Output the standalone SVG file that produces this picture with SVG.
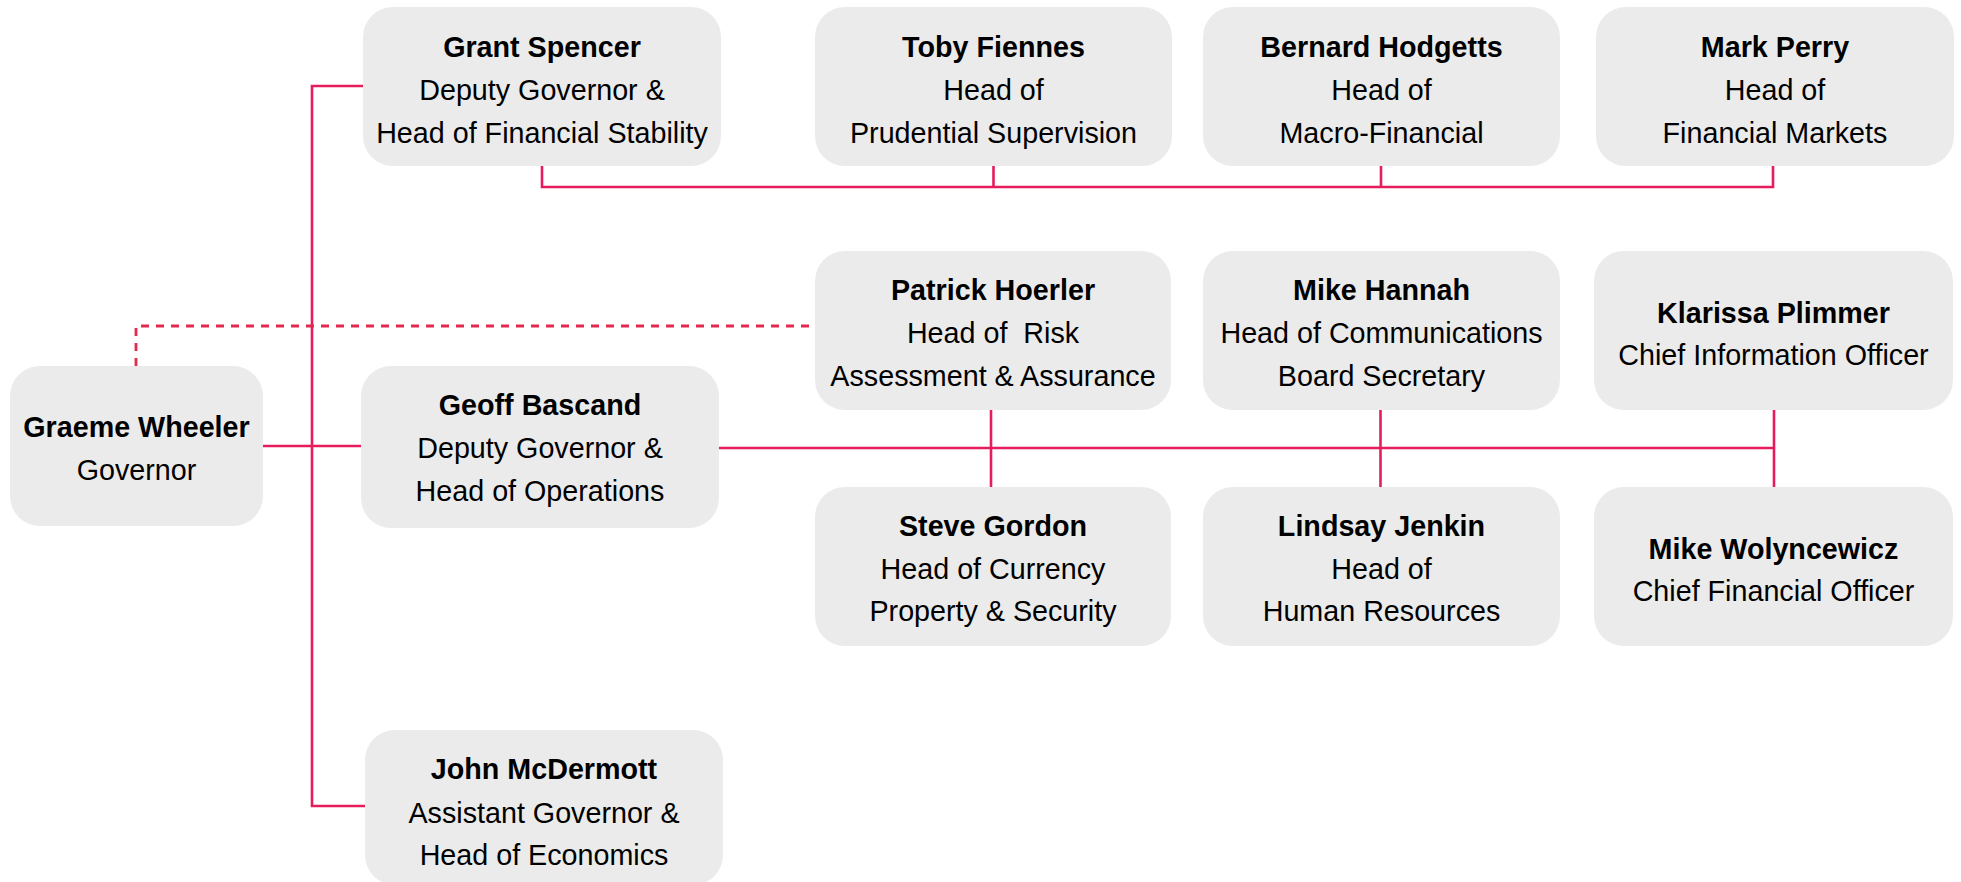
<svg xmlns="http://www.w3.org/2000/svg" width="1961" height="882" viewBox="0 0 1961 882">
<style>
.box{fill:#EBEBEB}
.t{font-family:"Liberation Sans",Arial,sans-serif;font-size:28.7px;fill:#000;text-anchor:middle}
.b{font-weight:bold}
.c{fill:none;stroke:#E61C5C;stroke-width:2.6}
.d{fill:none;stroke:#E22A4E;stroke-width:2.8;stroke-dasharray:8 7}
</style>
<rect width="1961" height="882" fill="#fff"/>
<g id="connectors">
<path class="c" d="M363,86 H312 V806 H365"/>
<path class="c" d="M263,446 H361"/>
<path class="c" d="M542,166 V187 H1773 V166"/>
<path class="c" d="M993.5,166 V187"/>
<path class="c" d="M1381,166 V187"/>
<path class="c" d="M719,448 H1774"/>
<path class="c" d="M1774,410 V487"/>
<path class="c" d="M991,410 V487"/>
<path class="c" d="M1380.5,410 V487"/>
<path class="d" d="M136,366 V326 H815"/>
</g>
<g id="grant">
<rect class="box" x="363" y="7" width="358" height="159" rx="30"/>
<text class="t b" x="542" y="57">Grant Spencer</text>
<text class="t" x="542" y="99.5">Deputy Governor &amp;</text>
<text class="t" x="542" y="142.5">Head of Financial Stability</text>
</g>
<g id="toby">
<rect class="box" x="815" y="7" width="357" height="159" rx="30"/>
<text class="t b" x="993.5" y="57">Toby Fiennes</text>
<text class="t" x="993.5" y="99.5">Head of</text>
<text class="t" x="993.5" y="142.5">Prudential Supervision</text>
</g>
<g id="bernard">
<rect class="box" x="1203" y="7" width="357" height="159" rx="30"/>
<text class="t b" x="1381.5" y="57">Bernard Hodgetts</text>
<text class="t" x="1381.5" y="99.5">Head of</text>
<text class="t" x="1381.5" y="142.5">Macro-Financial</text>
</g>
<g id="mark">
<rect class="box" x="1596" y="7" width="358" height="159" rx="30"/>
<text class="t b" x="1775" y="57">Mark Perry</text>
<text class="t" x="1775" y="99.5">Head of</text>
<text class="t" x="1775" y="142.5">Financial Markets</text>
</g>
<g id="graeme">
<rect class="box" x="10" y="366" width="253" height="160" rx="30"/>
<text class="t b" x="136.5" y="437">Graeme Wheeler</text>
<text class="t" x="136.5" y="480">Governor</text>
</g>
<g id="geoff">
<rect class="box" x="361" y="366" width="358" height="162" rx="30"/>
<text class="t b" x="540" y="415">Geoff Bascand</text>
<text class="t" x="540" y="458">Deputy Governor &amp;</text>
<text class="t" x="540" y="500.5">Head of Operations</text>
</g>
<g id="patrick">
<rect class="box" x="815" y="251" width="356" height="159" rx="30"/>
<text class="t b" x="993" y="300">Patrick Hoerler</text>
<text class="t" x="993" y="343" xml:space="preserve">Head of  Risk</text>
<text class="t" x="993" y="386">Assessment &amp; Assurance</text>
</g>
<g id="hannah">
<rect class="box" x="1203" y="251" width="357" height="159" rx="30"/>
<text class="t b" x="1381.5" y="300">Mike Hannah</text>
<text class="t" x="1381.5" y="343">Head of Communications</text>
<text class="t" x="1381.5" y="386">Board Secretary</text>
</g>
<g id="klarissa">
<rect class="box" x="1594" y="251" width="359" height="159" rx="30"/>
<text class="t b" x="1773.5" y="322.5">Klarissa Plimmer</text>
<text class="t" x="1773.5" y="365">Chief Information Officer</text>
</g>
<g id="steve">
<rect class="box" x="815" y="487" width="356" height="159" rx="30"/>
<text class="t b" x="993" y="536">Steve Gordon</text>
<text class="t" x="993" y="579">Head of Currency</text>
<text class="t" x="993" y="621">Property &amp; Security</text>
</g>
<g id="lindsay">
<rect class="box" x="1203" y="487" width="357" height="159" rx="30"/>
<text class="t b" x="1381.5" y="536">Lindsay Jenkin</text>
<text class="t" x="1381.5" y="579">Head of</text>
<text class="t" x="1381.5" y="621">Human Resources</text>
</g>
<g id="wolyncewicz">
<rect class="box" x="1594" y="487" width="359" height="159" rx="30"/>
<text class="t b" x="1773.5" y="558.5">Mike Wolyncewicz</text>
<text class="t" x="1773.5" y="600.5">Chief Financial Officer</text>
</g>
<g id="john">
<rect class="box" x="365" y="730" width="358" height="155" rx="30"/>
<text class="t b" x="544" y="779">John McDermott</text>
<text class="t" x="544" y="822.5">Assistant Governor &amp;</text>
<text class="t" x="544" y="865">Head of Economics</text>
</g>
</svg>
